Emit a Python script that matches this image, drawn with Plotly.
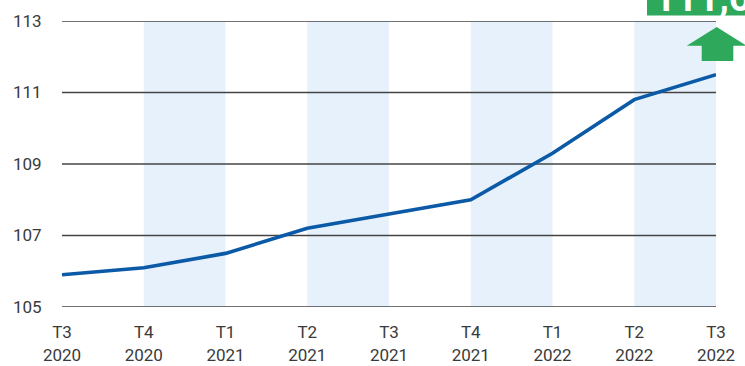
import plotly.graph_objects as go

quarters = ["T3<br>2020", "T4<br>2020", "T1<br>2021", "T2<br>2021", "T3<br>2021",
            "T4<br>2021", "T1<br>2022", "T2<br>2022", "T3<br>2022"]
values = [105.9, 106.1, 106.5, 107.2, 107.6, 108.0, 109.3, 110.8, 111.5]
y_ticks = [105, 107, 109, 111, 113]
band_starts = [1, 3, 5, 7]
latest_label = "111,6"

W, H = 745, 366
L, R, T, B = 62, 29, 21, 59
PW, PH = W - L - R, H - T - B

def px(x):
    return (x - L) / PW

def py(y):
    return (H - B - y) / PH

fig = go.Figure()

shapes = []
for s in band_starts:
    shapes.append(dict(type="rect", xref="x", yref="paper", x0=s, x1=s + 1, y0=0, y1=1,
                       fillcolor="#e7f1fb", line=dict(width=0), layer="below"))
for v in y_ticks:
    shapes.append(dict(type="line", xref="paper", yref="y", x0=0, x1=1, y0=v, y1=v,
                       line=dict(color="#444444", width=1.5), layer="below"))
# green label box
shapes.append(dict(type="rect", xref="paper", yref="paper",
                   x0=px(647), x1=px(760), y0=py(15.5), y1=py(-20),
                   fillcolor="#2ea95c", line=dict(width=0), layer="above"))
# up arrow
pts = [(716.7, 27), (746.7, 45.7), (733.3, 45.7), (733.3, 61), (701.7, 61), (701.7, 45.7), (686.7, 45.7)]
path = "M " + " L ".join(f"{px(a):.5f},{py(b):.5f}" for a, b in pts) + " Z"
shapes.append(dict(type="path", xref="paper", yref="paper", path=path,
                   fillcolor="#2ea95c", line=dict(width=0), layer="above"))

fig.add_trace(go.Scatter(
    x=list(range(len(quarters))), y=values, mode="lines",
    line=dict(color="#0b5aa7", width=3.6), hoverinfo="skip", cliponaxis=False))

fig.update_layout(
    width=W, height=H, margin=dict(l=L, r=R, t=T, b=B, autoexpand=False),
    paper_bgcolor="white", plot_bgcolor="white", showlegend=False,
    font=dict(family="Roboto", size=17, color="#3a3a3a"),
    shapes=shapes,
    xaxis=dict(tickmode="array", tickvals=list(range(len(quarters))), ticktext=quarters,
               range=[0, len(quarters) - 1], showgrid=False, zeroline=False, showline=False,
               ticks="outside", ticklen=10, tickcolor="rgba(0,0,0,0)", fixedrange=True,
               automargin=False),
    yaxis=dict(tickmode="array", tickvals=y_ticks, range=[105, 113],
               showgrid=False, zeroline=False, automargin=False,
               showline=False, ticks="outside", ticklen=16, tickcolor="rgba(0,0,0,0)",
               fixedrange=True),
    annotations=[dict(text=f"<b>{latest_label}</b>", xref="paper", yref="paper",
                      x=px(652), y=py(22), xanchor="left", yanchor="bottom",
                      showarrow=False, font=dict(family="Roboto", size=38, color="white"))],
)

fig.write_html("out.html")
